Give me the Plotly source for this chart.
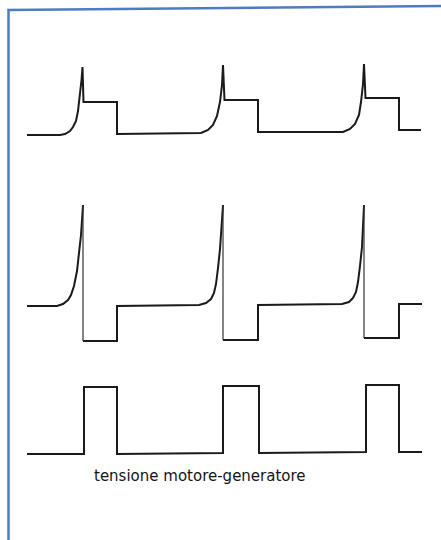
import plotly.graph_objects as go

# Time axis (arbitrary units) and levels for each trace
t_top = [27, 60, 65, 70, 73, 76, 78, 80, 81.5, 82.5, 83.5, 117, 117,
         201, 208, 213, 217, 220, 222, 223, 224.5, 258, 258,
         343, 350, 355, 359, 361, 363, 364, 365.5, 399, 399, 421]
v_top = [0, 0, 1, 4, 8, 14, 24, 40, 55, 68, 33, 33, 1,
         2, 5, 10, 19, 33, 50, 70, 35, 35, 3,
         3, 6, 11, 20, 33, 51, 71, 37, 37, 5, 5]

t_mid = [27, 57, 63, 68, 71, 74, 77, 79, 81, 83, 83, 117, 117,
         199, 206, 211, 214, 216, 218, 220, 223, 223, 258, 258,
         342, 349, 353, 356, 358, 360, 362, 364, 364, 399, 399, 422]
v_mid = [0, 0, 2, 6, 11, 20, 35, 52, 71, 101, -35, -35, 0,
         1, 3, 7, 13, 22, 38, 57, 101, -34, -34, 1,
         2, 4, 8, 14, 24, 40, 59, 101, -32, -32, 2, 2]

t_bot = [27, 84, 84, 117, 117, 223, 223, 259, 259, 366, 366, 399, 399, 422]
v_bot = [0, 0, 67, 67, 0, 1, 68, 68, 1, 2, 69, 69, 2, 2]

caption = "tensione motore-generatore"

W, H = 441, 540
bases = [135, 306, 454]  # vertical placement of each trace's zero level
INK = "#1a1a1a"

fig = go.Figure()


def add_line(t, v, ax, width, color=INK):
    fig.add_trace(go.Scatter(x=t, y=v, mode="lines", yaxis=ax,
                             line=dict(color=color, width=width),
                             hoverinfo="skip", showlegend=False,
                             connectgaps=False))


add_line(t_top, v_top, "y", 2)
add_line(t_bot, v_bot, "y3", 2)

# middle trace: the fast falling edges are drawn with a thinner stroke
thick_t, thick_v, thin_t, thin_v = [], [], [], []
for i in range(len(t_mid)):
    thick_t.append(t_mid[i]); thick_v.append(t_mid and v_mid[i])
    if i + 1 < len(t_mid) and t_mid[i + 1] == t_mid[i] and v_mid[i + 1] < v_mid[i]:
        thin_t += [t_mid[i], t_mid[i + 1], None]
        thin_v += [v_mid[i], v_mid[i + 1], None]
        thick_t.append(None); thick_v.append(None)
add_line(thick_t, thick_v, "y2", 2)
add_line(thin_t, thin_v, "y2", 1.2, "#333333")


def yax(base, overlay=None):
    d = dict(range=[base - H, base], domain=[0, 1], visible=False,
             showgrid=False, zeroline=False, fixedrange=True)
    if overlay:
        d["overlaying"] = overlay
    return d


fig.update_layout(
    width=W, height=H,
    margin=dict(l=0, r=0, t=0, b=0),
    paper_bgcolor="white", plot_bgcolor="white",
    xaxis=dict(range=[0, W], visible=False, showgrid=False, zeroline=False),
    yaxis=yax(bases[0]),
    yaxis2=yax(bases[1], "y"),
    yaxis3=yax(bases[2], "y"),
    showlegend=False,
)

fig.add_annotation(text=caption, x=199.5, y=bases[2] - 476, xref="x", yref="y3",
                   showarrow=False, xanchor="center", yanchor="middle",
                   font=dict(family="DejaVu Sans", size=15, color="#151515"))

# blue frame on the left and top
fig.add_shape(type="path", xref="paper", yref="paper",
              path=f"M {8.5/W},0 L {8.5/W},{1-10/H} L 1,{1-6/H}",
              line=dict(color="#4f7cc0", width=2.5))

fig.write_html("out.html", config={"displayModeBar": False},
               post_script="document.body.style.margin='0';document.body.style.overflow='hidden';")
